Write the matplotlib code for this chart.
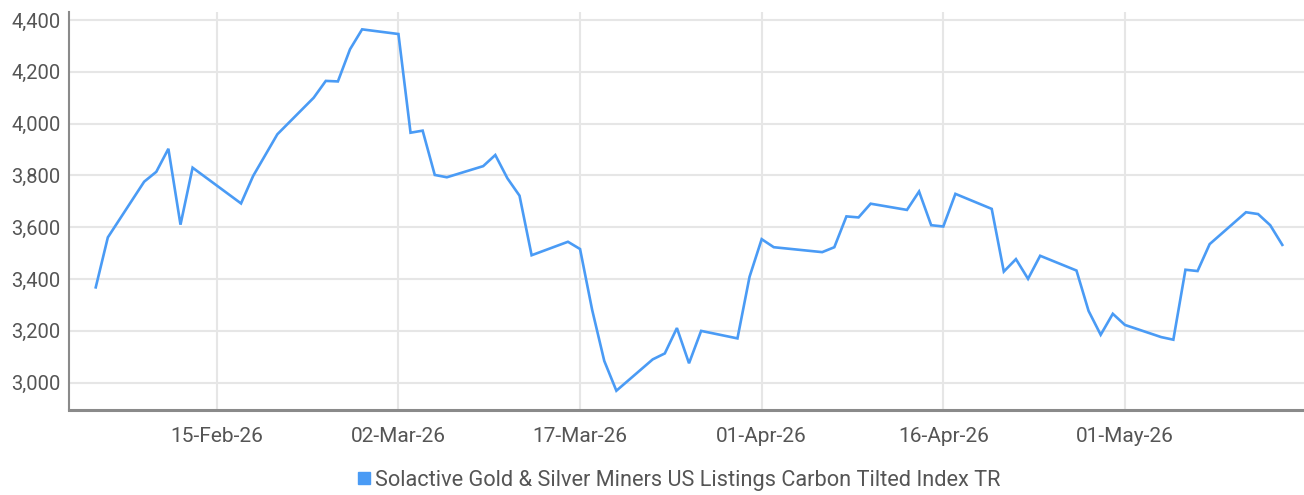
import numpy as np
import matplotlib
matplotlib.use("Agg")
import matplotlib.pyplot as plt
import matplotlib.dates as mdates
from matplotlib.lines import Line2D

dates = [
    "2026-02-05", "2026-02-06", "2026-02-09", "2026-02-10", "2026-02-11", "2026-02-12", "2026-02-13",
    "2026-02-17", "2026-02-18", "2026-02-20", "2026-02-23", "2026-02-24", "2026-02-25", "2026-02-26",
    "2026-02-27", "2026-03-02", "2026-03-03", "2026-03-04", "2026-03-05", "2026-03-06", "2026-03-09",
    "2026-03-10", "2026-03-11", "2026-03-12", "2026-03-13", "2026-03-16", "2026-03-17", "2026-03-18",
    "2026-03-19", "2026-03-20", "2026-03-23", "2026-03-24", "2026-03-25", "2026-03-26", "2026-03-27",
    "2026-03-30", "2026-03-31", "2026-04-01", "2026-04-02", "2026-04-06", "2026-04-07", "2026-04-08",
    "2026-04-09", "2026-04-10", "2026-04-13", "2026-04-14", "2026-04-15", "2026-04-16", "2026-04-17",
    "2026-04-20", "2026-04-21", "2026-04-22", "2026-04-23", "2026-04-24", "2026-04-27", "2026-04-28",
    "2026-04-29", "2026-04-30", "2026-05-01", "2026-05-04", "2026-05-05", "2026-05-06", "2026-05-07",
    "2026-05-08", "2026-05-11", "2026-05-12", "2026-05-13", "2026-05-14",
]
values = [
    3368, 3561, 3776, 3814, 3903, 3610, 3830,
    3692, 3798, 3959, 4100, 4165, 4163, 4287,
    4364, 4346, 3965, 3973, 3802, 3793, 3836,
    3879, 3789, 3722, 3492, 3544, 3516, 3281,
    3084, 2969, 3090, 3113, 3211, 3075, 3200,
    3171, 3409, 3554, 3523, 3504, 3523, 3642,
    3638, 3691, 3667, 3738, 3608, 3603, 3729,
    3671, 3429, 3477, 3401, 3490, 3433, 3277,
    3185, 3266, 3223, 3176, 3166, 3436, 3431,
    3535, 3658, 3651, 3608, 3532,
]
series_name = "Solactive Gold & Silver Miners US Listings Carbon Tilted Index TR"
x_ticks = ["2026-02-15", "2026-03-02", "2026-03-17", "2026-04-01", "2026-04-16", "2026-05-01"]
y_ticks = [3000, 3200, 3400, 3600, 3800, 4000, 4200, 4400]

plt.rcParams['font.family'] = ['Roboto', 'DejaVu Sans']

fig = plt.figure(figsize=(13.04, 4.95), dpi=100)
ax = fig.add_axes([69/1304, 1 - 410/495, 1 - 69/1304, (410 - 12)/495])

x = np.array(dates, dtype="datetime64[D]")
line_color = "#4a9bf5"
ax.plot(x, values, color=line_color, lw=1.9, solid_joinstyle="miter", zorder=3)

ax.set_xlim(np.datetime64("2026-02-02T19:00"), np.datetime64("2026-05-15T19:00"))
ax.set_ylim(2894.6, 4431)
ax.set_xticks(np.array(x_ticks, dtype="datetime64[D]"))
ax.xaxis.set_major_formatter(mdates.DateFormatter("%d-%b-%y"))
ax.set_yticks(y_ticks)
ax.set_yticklabels([f"{v:,}" for v in y_ticks])

ax.grid(True, color="#e6e6e6", lw=1.5, zorder=0)
ax.set_axisbelow(True)
for s in ["top", "right"]:
    ax.spines[s].set_visible(False)
ax.spines["left"].set_color("#8a8a8a")
ax.spines["left"].set_linewidth(1.5)
ax.spines["bottom"].set_color("#8a8a8a")
ax.spines["bottom"].set_linewidth(2.2)
ax.tick_params(axis="both", length=0, labelsize=14.5, labelcolor="#555555")
ax.tick_params(axis="x", labelsize=15)
ax.tick_params(axis="y", pad=6)
ax.tick_params(axis="x", pad=12)

handle = Line2D([], [], marker="s", color=line_color, linestyle="none", markersize=8)
fig.legend([handle], [series_name], loc="center", bbox_to_anchor=(0.52, 0.03),
           frameon=False, fontsize=15.7, labelcolor="#555555", handletextpad=0.1,
           handlelength=0.8)

fig.savefig("out.png", dpi=100)
